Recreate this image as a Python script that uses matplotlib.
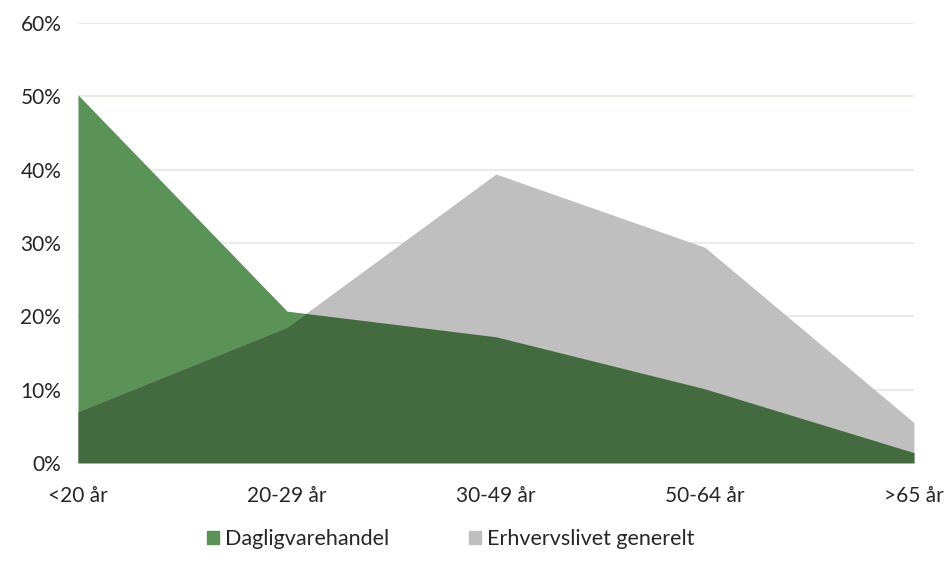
import numpy as np
import matplotlib
matplotlib.use("Agg")
import matplotlib.pyplot as plt
from matplotlib.patches import Patch
from matplotlib.ticker import PercentFormatter

categories = ["<20 år", "20-29 år", "30-49 år", "50-64 år", ">65 år"]
dagligvare = [50.2, 20.7, 17.2, 10.1, 1.4]
erhverv = [7.0, 18.5, 39.4, 29.4, 5.5]
series_names = ["Dagligvarehandel", "Erhvervslivet generelt"]

green = "#5b9257"
grey = "#bfbfbf"
dark = "#436b3f"

plt.rcParams['font.family'] = ['Lato', 'DejaVu Sans']

fig = plt.figure(figsize=(9.51, 5.75), dpi=100)
ax = fig.add_axes([0.082, 0.195, 0.879, 0.765])

x = np.arange(len(categories))
ax.fill_between(x, 0, dagligvare, color=green, linewidth=0, zorder=2)
ax.fill_between(x, 0, erhverv, color=grey, linewidth=0, zorder=2)
xd = np.linspace(0, len(categories) - 1, 2001)
overlap = np.minimum(np.interp(xd, x, dagligvare), np.interp(xd, x, erhverv))
ax.fill_between(xd, 0, overlap, color=dark, linewidth=0, zorder=3)

ax.set_xlim(0, len(categories) - 1)
ax.set_ylim(0, 60)
ax.set_yticks(np.arange(0, 61, 10))
ax.yaxis.set_major_formatter(PercentFormatter(decimals=0))
ax.set_xticks(x)
ax.set_xticklabels(categories)
ax.grid(axis='y', color='#e2ebe1', linewidth=1.2, zorder=1)
ax.set_axisbelow(True)
for s in ['top', 'right', 'left']:
    ax.spines[s].set_visible(False)
ax.spines['bottom'].set_color('#e2ebe1')
ax.spines['bottom'].set_linewidth(1.2)
ax.tick_params(axis='both', length=0, labelsize=15, colors='#262626')
ax.tick_params(axis='y', pad=12)
ax.tick_params(axis='x', pad=17)

handles = [Patch(color=green, label=series_names[0]), Patch(color=grey, label=series_names[1])]
fig.legend(handles=handles, loc='center', bbox_to_anchor=(0.474, 0.062), ncol=2,
           frameon=False, fontsize=15.5, handlelength=0.55, handleheight=0.55,
           handletextpad=0.3, columnspacing=3.7, labelcolor='#262626')

fig.savefig("out.png", dpi=100)
